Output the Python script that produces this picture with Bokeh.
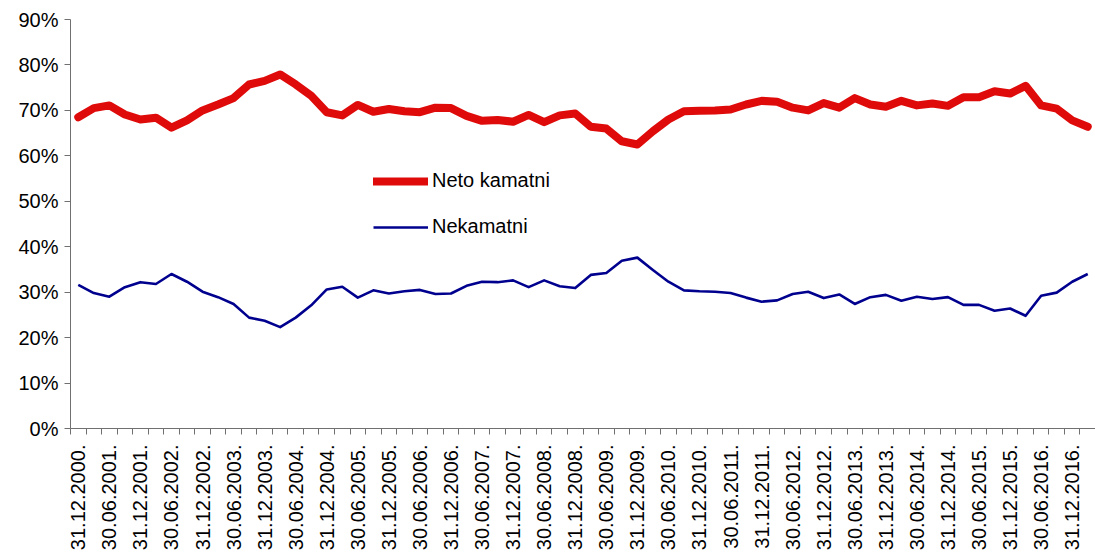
from math import pi
from bokeh.plotting import figure
from bokeh.models import (Range1d, FixedTicker, PrintfTickFormatter, Legend, LegendItem)
from bokeh.embed import file_html
from bokeh.resources import INLINE

# Quarterly observations, 31.12.2000 .. 31.03.2017 (index = quarter number)
neto_kamatni = [68.5, 70.5, 71.1, 69.1, 68.0, 68.4, 66.2, 67.8, 70.0, 71.3,
                72.7, 75.7, 76.5, 77.9, 75.7, 73.2, 69.6, 68.9, 71.2, 69.7,
                70.3, 69.8, 69.6, 70.6, 70.5, 68.8, 67.7, 67.9, 67.5, 69.0,
                67.4, 68.9, 69.3, 66.4, 66.0, 63.2, 62.5, 65.4, 68.0, 69.8,
                69.9, 70.0, 70.2, 71.3, 72.1, 71.9, 70.6, 70.0, 71.6, 70.6,
                72.7, 71.3, 70.8, 72.1, 71.1, 71.5, 71.0, 72.9, 72.9, 74.2,
                73.7, 75.4, 71.1, 70.4, 67.8, 66.4]
nekamatni = [31.6, 29.8, 29.0, 31.1, 32.2, 31.8, 34.0, 32.3, 30.1, 28.9,
             27.4, 24.4, 23.7, 22.3, 24.4, 27.1, 30.6, 31.2, 28.8, 30.4,
             29.7, 30.2, 30.5, 29.6, 29.7, 31.4, 32.3, 32.2, 32.6, 31.1,
             32.6, 31.3, 30.9, 33.8, 34.2, 36.9, 37.6, 34.9, 32.3, 30.4,
             30.2, 30.1, 29.8, 28.8, 27.9, 28.2, 29.6, 30.1, 28.7, 29.5,
             27.4, 28.9, 29.4, 28.1, 29.0, 28.5, 28.9, 27.2, 27.2, 25.9,
             26.4, 24.8, 29.2, 29.9, 32.3, 34.0]
tick_labels = ["31.12.2000.", "30.06.2001.", "31.12.2001.", "30.06.2002.", "31.12.2002.",
               "30.06.2003.", "31.12.2003.", "30.06.2004.", "31.12.2004.", "30.06.2005.",
               "31.12.2005.", "30.06.2006.", "31.12.2006.", "30.06.2007.", "31.12.2007.",
               "30.06.2008.", "31.12.2008.", "30.06.2009.", "31.12.2009.", "30.06.2010.",
               "31.12.2010.", "30.06.2011.", "31.12.2011.", "30.06.2012.", "31.12.2012.",
               "30.06.2013.", "31.12.2013.", "30.06.2014.", "31.12.2014.", "30.06.2015.",
               "31.12.2015.", "30.06.2016.", "31.12.2016."]
series_names = ["Neto kamatni", "Nekamatni"]

FONT = "Liberation Sans"
n = len(neto_kamatni)
x = list(range(n))

p = figure(width=1095, height=553, output_backend="svg", toolbar_location=None,
           x_range=Range1d(-0.5, n - 0.5), y_range=Range1d(0, 90),
           min_border_left=70, min_border_right=0, min_border_top=19, min_border_bottom=124)
p.outline_line_color = None
p.xgrid.visible = False
p.ygrid.visible = False
p.background_fill_color = "white"
p.border_fill_color = "white"

r1 = p.line(x, neto_kamatni, line_color="#DF0A0A", line_width=8,
            line_cap="round", line_join="round")
r2 = p.line(x, nekamatni, line_color="#00008F", line_width=2.6, line_join="round")

axis_col = "#707070"
# x axis
xa = p.xaxis[0]
label_pos = [2 * i for i in range(len(tick_labels))]
xa.ticker = FixedTicker(ticks=label_pos, minor_ticks=[i - 0.5 for i in range(n + 1)])
xa.major_label_overrides = {pos: lab for pos, lab in zip(label_pos, tick_labels)}
xa.major_label_orientation = pi / 2
xa.major_tick_out = 0
xa.major_tick_in = 0
xa.minor_tick_out = 6
xa.minor_tick_in = 0
xa.minor_tick_line_color = axis_col
xa.axis_line_color = axis_col
xa.major_label_standoff = 10
xa.major_label_text_font = FONT
xa.major_label_text_font_size = "20px"
xa.major_label_text_color = "black"

# y axis
ya = p.yaxis[0]
ya.ticker = FixedTicker(ticks=[0, 10, 20, 30, 40, 50, 60, 70, 80, 90])
ya.formatter = PrintfTickFormatter(format="%d%%")
ya.major_tick_out = 6
ya.major_tick_in = 0
ya.minor_tick_out = 0
ya.minor_tick_in = 0
ya.axis_line_color = axis_col
ya.major_tick_line_color = axis_col
ya.major_label_standoff = 6
ya.major_label_text_font = FONT
ya.major_label_text_font_size = "20px"
ya.major_label_text_color = "black"

legend = Legend(items=[LegendItem(label=series_names[0], renderers=[r1]),
                       LegendItem(label=series_names[1], renderers=[r2])],
                location=(303, 190), orientation="vertical",
                glyph_width=55, glyph_height=20, label_height=20, spacing=23,
                label_standoff=4, padding=0, margin=0,
                label_text_font=FONT, label_text_font_size="20px",
                label_text_color="black",
                border_line_color=None, background_fill_alpha=0)
p.add_layout(legend, "center")

open("out.html", "w").write(file_html(p, INLINE))
